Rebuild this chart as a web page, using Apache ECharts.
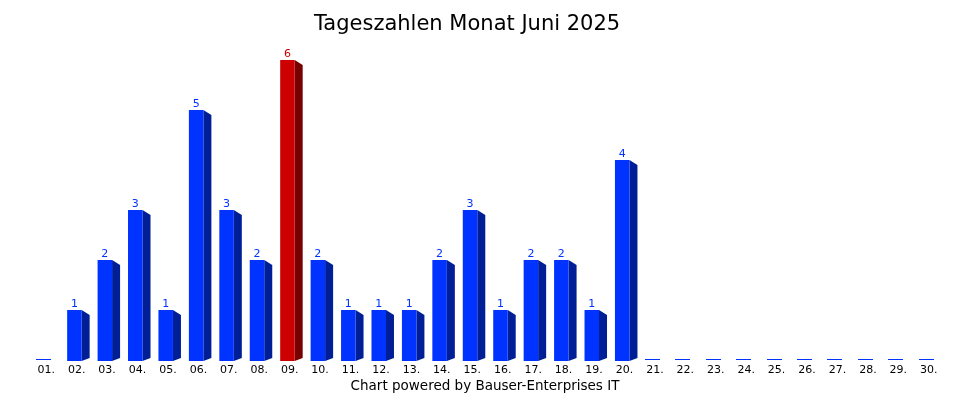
<!DOCTYPE html>
<html>
<head>
<meta charset="utf-8">
<script src="https://cdn.jsdelivr.net/npm/echarts@6/dist/echarts.min.js"></script>
<style>
  html, body { margin: 0; padding: 0; background: #fff; }
  #chart { width: 970px; height: 400px; }
</style>
</head>
<body>
<div id="chart"></div>
<script>
const days = ['01.', '02.', '03.', '04.', '05.', '06.', '07.', '08.', '09.', '10.',
  '11.', '12.', '13.', '14.', '15.', '16.', '17.', '18.', '19.', '20.',
  '21.', '22.', '23.', '24.', '25.', '26.', '27.', '28.', '29.', '30.'];
const counts = [0, 1, 2, 3, 1, 5, 3, 2, 6, 2,
  1, 1, 1, 2, 3, 1, 2, 2, 1, 4,
  0, 0, 0, 0, 0, 0, 0, 0, 0, 0];
// the peak day is drawn red
const highlightDay = '09.';

const chart = echarts.init(document.getElementById('chart'));

function renderBar(params, api) {
  const idx = api.value(0);
  const val = api.value(1);
  const top = api.coord([idx, val]);
  const base = api.coord([idx, 0]);
  const c = base[0];
  const y0 = Math.round(base[1]);
  const hot = days[idx] === highlightDay;
  const front = hot ? '#cc0000' : '#0033ff';
  const side = hot ? '#770000' : '#001e96';

  if (val === 0) {
    // empty day: just a flat blue line on the baseline
    const lx = Math.round(c - 10);
    return {
      type: 'rect',
      shape: { x: lx, y: y0 - 1, width: 15, height: 1 },
      style: { fill: front },
      silent: true
    };
  }
  const x1 = c - 9.5, x2 = c + 5, x3 = c + 13;
  const yt = top[1];
  return {
    type: 'group',
    children: [
      {
        type: 'polygon',
        shape: { points: [[x2, yt], [x3, yt + 5], [x3, y0 - 2], [x2, y0 + 1]] },
        style: { fill: side }
      },
      {
        type: 'rect',
        shape: { x: x1, y: yt, width: x2 - x1, height: y0 - yt + 1 },
        style: { fill: front }
      },
      {
        type: 'text',
        x: (x1 + x2) / 2,
        y: yt,
        style: {
          text: String(val),
          fill: front,
          font: '11px "DejaVu Sans"',
          align: 'center',
          verticalAlign: 'bottom'
        }
      }
    ]
  };
}

chart.setOption({
  backgroundColor: '#ffffff',
  animation: false,
  title: {
    text: 'Tageszahlen Monat Juni 2025',
    left: 309,
    top: 9,
    textStyle: { fontFamily: 'DejaVu Sans', fontSize: 21, fontWeight: 'normal', color: '#000' }
  },
  graphic: [{
    type: 'text',
    left: 'center',
    top: 379,
    style: {
      text: 'Chart powered by Bauser-Enterprises IT',
      font: '13.5px "DejaVu Sans"',
      fill: '#000'
    }
  }],
  grid: { left: 31, right: 26, top: 60, bottom: 40 },
  xAxis: {
    type: 'category',
    data: days,
    axisLine: { show: false },
    axisTick: { show: false },
    axisLabel: { color: '#000', fontFamily: 'DejaVu Sans', fontSize: 11, margin: 5, interval: 0 }
  },
  yAxis: {
    type: 'value',
    min: 0,
    max: 6,
    show: false
  },
  series: [{
    type: 'custom',
    renderItem: renderBar,
    data: counts.map((v, i) => [i, v]),
    encode: { x: 0, y: 1 }
  }]
});
</script>
</body>
</html>
